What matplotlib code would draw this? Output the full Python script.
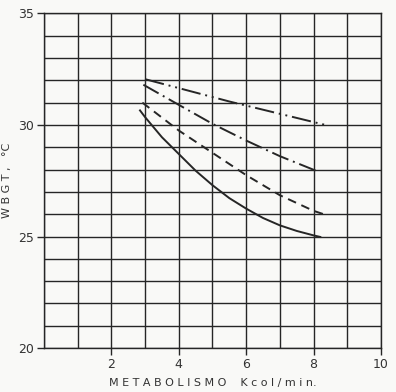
import matplotlib.pyplot as plt
from matplotlib.ticker import MultipleLocator

# curva superior (raya-punto-punto)
x_a = [3.0, 5.5, 8.35]
y_a = [32.05, 31.05, 30.0]
# raya-punto
x_b = [2.95, 4.0, 5.0, 6.0, 7.0, 8.15]
y_b = [31.8, 30.9, 30.05, 29.3, 28.6, 27.9]
# discontinua
x_c = [2.92, 4.0, 5.0, 6.0, 7.0, 8.0, 8.3]
y_c = [31.0, 29.75, 28.75, 27.75, 26.85, 26.15, 26.0]
# continua
x_d = [2.85, 3.0, 3.5, 4.0, 4.5, 5.0, 5.5, 6.0, 6.5, 7.0, 7.5, 8.0, 8.2]
y_d = [30.65, 30.35, 29.45, 28.7, 27.95, 27.3, 26.72, 26.25, 25.83, 25.5, 25.25, 25.05, 24.98]

x_ticks = [2, 4, 6, 8, 10]
y_ticks = [20, 25, 30, 35]

ink = '#262626'
fig = plt.figure(figsize=(3.96, 3.92), dpi=100, facecolor='#f9f9f7')
ax = fig.add_axes([0.111, 0.112, 0.851, 0.854])
ax.set_facecolor('#f9f9f7')

ax.set_xlim(0, 10)
ax.set_ylim(20, 35)
ax.xaxis.set_minor_locator(MultipleLocator(1))
ax.yaxis.set_minor_locator(MultipleLocator(1))
ax.set_xticks(x_ticks)
ax.set_yticks(y_ticks)
ax.grid(which='both', color=ink, linewidth=1.0)
ax.set_axisbelow(True)
for s in ax.spines.values():
    s.set_color(ink)
    s.set_linewidth(1.0)
ax.tick_params(which='major', length=5, width=1.0, color=ink, labelsize=9, labelcolor='#333333', pad=2)
ax.tick_params(which='minor', length=0)

lw = 1.4
ax.plot(x_a, y_a, color=ink, lw=lw, linestyle=(0, (10, 2.5, 1, 2.5, 1, 2.5)))
ax.plot(x_b, y_b, color=ink, lw=lw, linestyle=(0, (9, 2.5, 1, 2.5)))
ax.plot(x_c, y_c, color=ink, lw=lw, linestyle=(0, (4.5, 3)))
ax.plot(x_d, y_d, color=ink, lw=lw, linestyle='-')

ax.set_xlabel('M E T A B O L I S M O    K c o l / m i n.', fontsize=8, color='#333333', labelpad=5)
ax.set_ylabel('W B G T ,   °C', fontsize=8, color='#333333')
ax.yaxis.set_label_coords(-0.095, 0.5)

fig.savefig('out.png', dpi=100, facecolor=fig.get_facecolor())
